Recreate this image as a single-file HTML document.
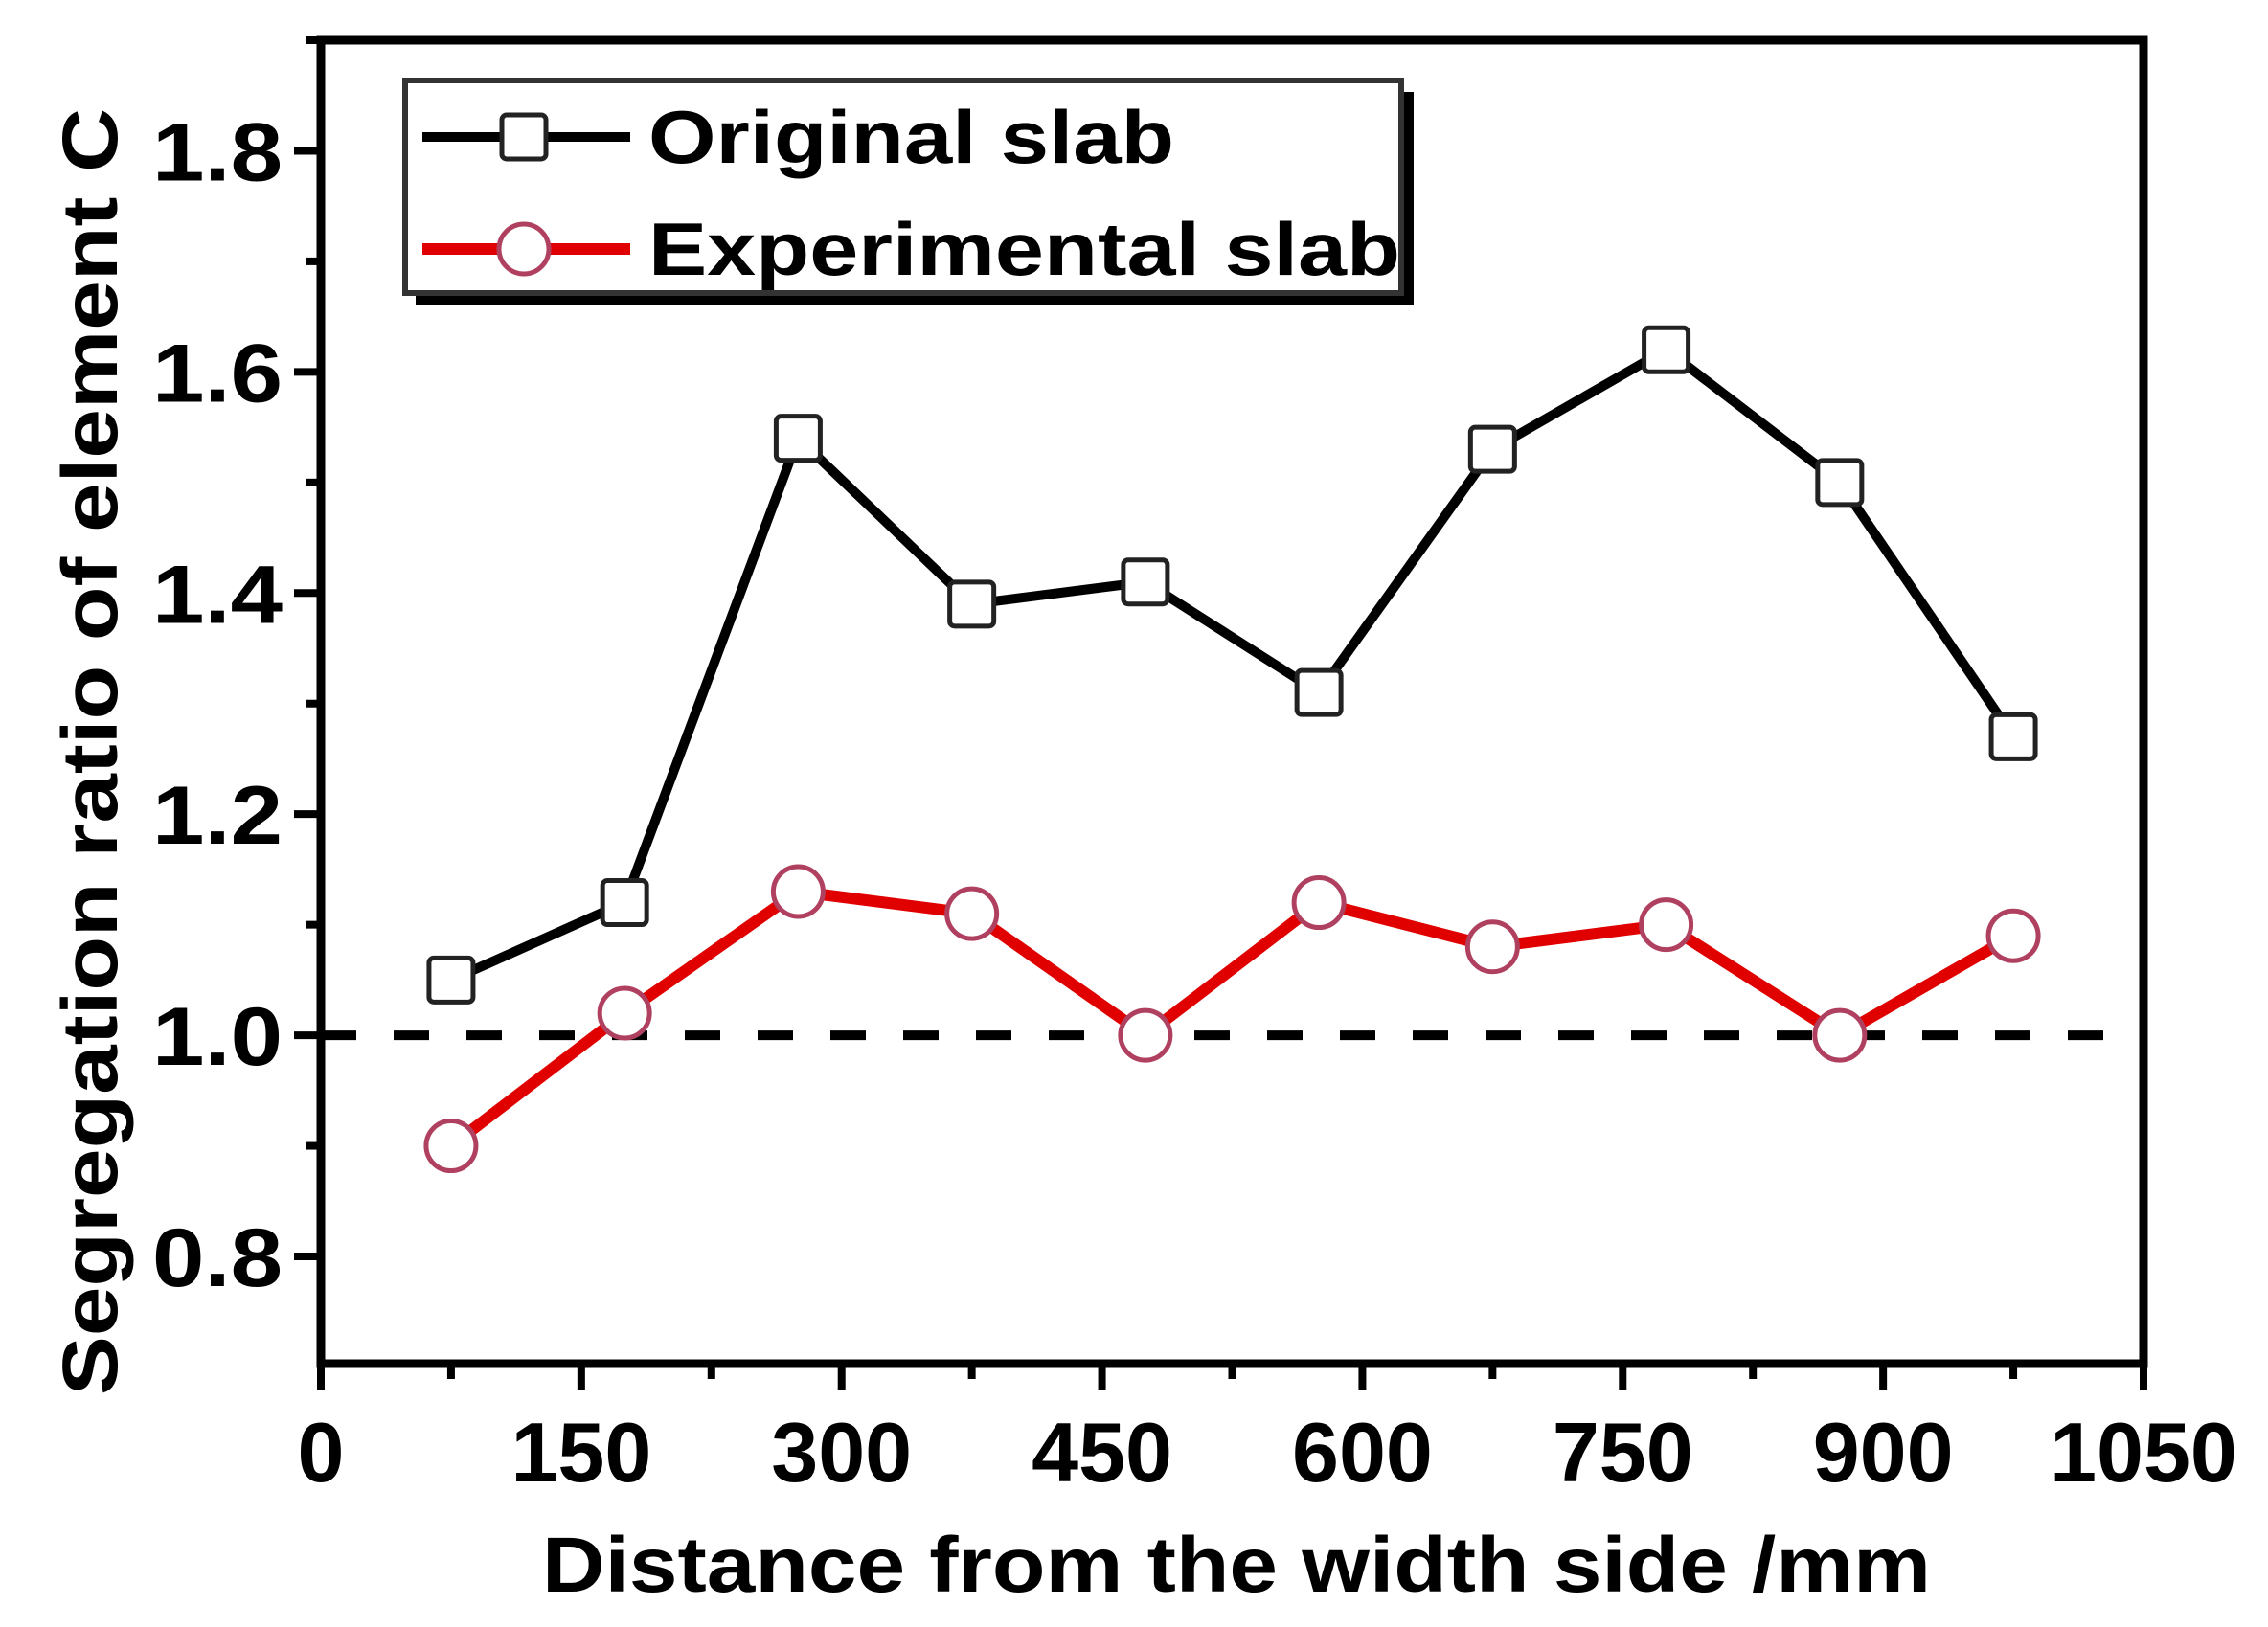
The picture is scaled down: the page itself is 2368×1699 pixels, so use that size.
<!DOCTYPE html>
<html><head><meta charset="utf-8">
<style>
html,body{margin:0;padding:0;background:#fff;}
svg{display:block;}
text{font-family:"Liberation Sans",Arial,sans-serif;font-weight:bold;fill:#000;}
</style></head>
<body>
<svg id="chart" width="2368" height="1699" viewBox="0 0 2368 1699" xmlns="http://www.w3.org/2000/svg">
<g id="plot"></g>
</svg>
<script>
const categories = [75,175,275,375,475,575,675,775,875,975];
const originalValues = [1.05,1.12,1.54,1.39,1.41,1.31,1.53,1.62,1.50,1.27];
const experimentalValues = [0.90,1.02,1.13,1.11,1.00,1.12,1.08,1.10,1.00,1.09];
const xTicks = [0,150,300,450,600,750,900,1050];
const yTicks = [0.8,1.0,1.2,1.4,1.6,1.8];
const yTickLabels = ["0.8","1.0","1.2","1.4","1.6","1.8"];
const refValue = 1.0;

const X0=335, X1=2238, Y0=1424, Y1=42;
const XMIN=0, XMAX=1050, YMIN=0.703, YMAX=1.90;
function sx(v){return X0+(v-XMIN)/(XMAX-XMIN)*(X1-X0);}
function sy(v){return Y0-(v-YMIN)/(YMAX-YMIN)*(Y0-Y1);}

const NS="http://www.w3.org/2000/svg";
const g=document.getElementById('plot');
function mk(tag,attrs,parent){const e=document.createElementNS(NS,tag);for(const k in attrs)e.setAttribute(k,attrs[k]);(parent||g).appendChild(e);return e;}

let ref=mk('line',{x1:X0,x2:X1,y1:sy(refValue),y2:sy(refValue),stroke:'#000','stroke-width':10,'stroke-dasharray':'37 39'});



let frame=mk('rect',{x:X0,y:Y1,width:X1-X0,height:Y0-Y1,fill:'none',stroke:'#000','stroke-width':9});



xTicks.forEach((v,i)=>{
  let t=mk('line',{x1:sx(v),x2:sx(v),y1:Y0,y2:Y0+28,stroke:'#000','stroke-width':8});
  
  
  if(i<xTicks.length-1){
    let m=mk('line',{x1:sx(v+75),x2:sx(v+75),y1:Y0,y2:Y0+16,stroke:'#000','stroke-width':8});
    
    
  }
  let l=mk('text',{x:sx(v),y:1547,'font-size':88,'text-anchor':'middle'});
  l.textContent=String(v);
  
  
});
yTicks.forEach((v,i)=>{
  let t=mk('line',{x1:X0-28,x2:X0,y1:sy(v),y2:sy(v),stroke:'#000','stroke-width':8});
  
  
  let m=mk('line',{x1:X0-16,x2:X0,y1:sy(v+0.1),y2:sy(v+0.1),stroke:'#000','stroke-width':8});
  
  
  let l=mk('text',{x:159,y:sy(v)+31,'font-size':86,textLength:136,lengthAdjust:'spacingAndGlyphs'});
  l.textContent=yTickLabels[i];
  
  
});

let xt=mk('text',{x:566,y:1662,'font-size':82,textLength:1450,lengthAdjust:'spacingAndGlyphs'});
xt.textContent='Distance from the width side /mm';


let yt=mk('text',{x:0,y:0,'font-size':82,textLength:1344,lengthAdjust:'spacingAndGlyphs',transform:'translate(122,1457) rotate(-90)'});
yt.textContent='Segregation ratio of element C';



function pts(vals){return categories.map((c,i)=>sx(c)+','+sy(vals[i])).join(' ');}
let lo=mk('polyline',{points:pts(originalValues),fill:'none',stroke:'#000','stroke-width':10,'stroke-linejoin':'round'});


let le=mk('polyline',{points:pts(experimentalValues),fill:'none',stroke:'#e00000','stroke-width':12,'stroke-linejoin':'round'});


categories.forEach((c,i)=>{
  let s=mk('rect',{x:sx(c)-23,y:sy(originalValues[i])-23,width:46,height:46,rx:5,fill:'#fff',stroke:'#222','stroke-width':5});
  
  
  let ci=mk('circle',{cx:sx(c),cy:sy(experimentalValues[i]),r:26,fill:'#fff',stroke:'#b04060','stroke-width':5});
  
  
});

let lg=mk('g',{});


mk('rect',{x:434,y:96,width:1042,height:222,fill:'#000'},lg);
mk('rect',{x:423,y:84,width:1040,height:222,fill:'#fff',stroke:'#333','stroke-width':6},lg);
let e1=mk('g',{},lg);


mk('line',{x1:441,x2:658,y1:143,y2:143,stroke:'#000','stroke-width':10},e1);
mk('rect',{x:524,y:120,width:46,height:46,rx:5,fill:'#fff',stroke:'#222','stroke-width':5},e1);
let t1=mk('text',{x:677,y:170,'font-size':78,textLength:549,lengthAdjust:'spacingAndGlyphs'},e1);t1.textContent='Original slab';
let e2=mk('g',{},lg);


mk('line',{x1:441,x2:658,y1:260,y2:260,stroke:'#e00000','stroke-width':12},e2);
mk('circle',{cx:547,cy:260,r:26,fill:'#fff',stroke:'#b04060','stroke-width':5},e2);
let t2=mk('text',{x:677,y:287,'font-size':78,textLength:785,lengthAdjust:'spacingAndGlyphs'},e2);t2.textContent='Experimental slab';
</script>
</body></html>
